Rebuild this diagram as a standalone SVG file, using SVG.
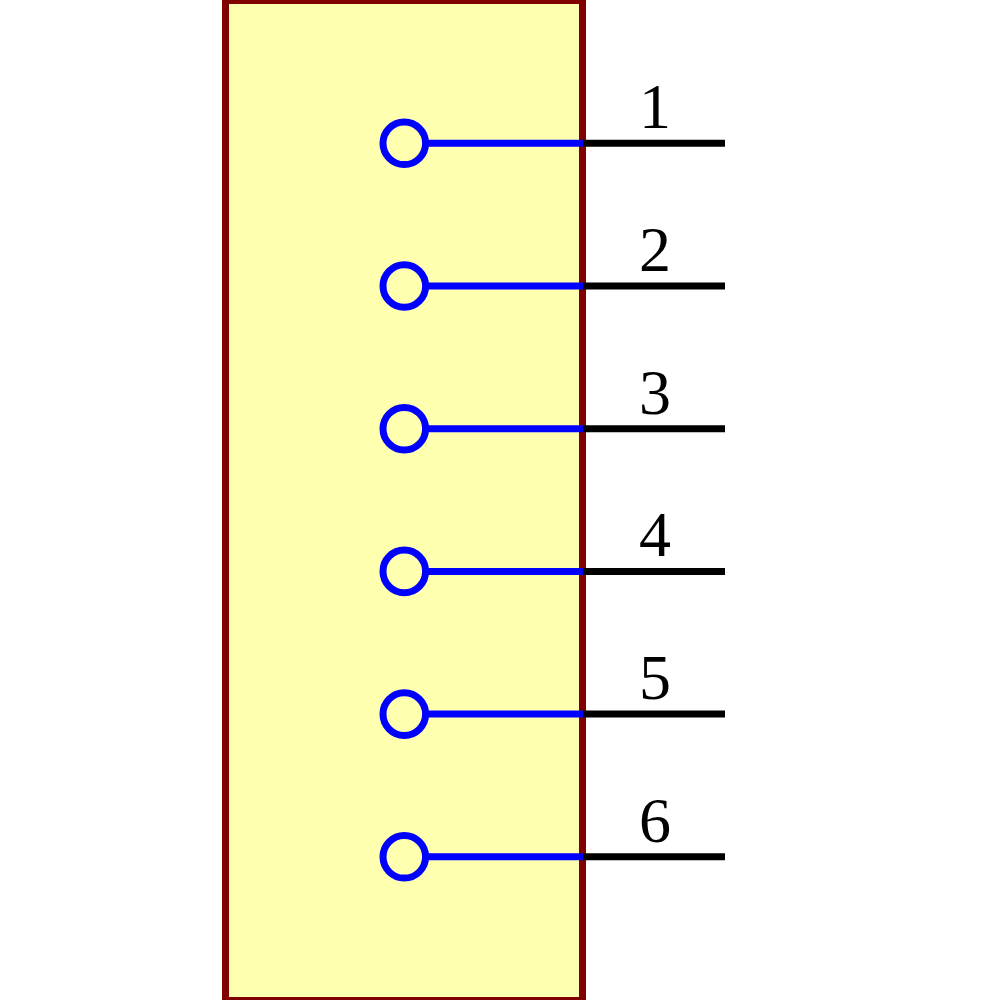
<svg xmlns="http://www.w3.org/2000/svg" width="1000" height="1000" viewBox="0 0 1000 1000">
<style>
.pin{stroke:#0000ff;stroke-width:7;fill:none}
.lead{stroke:#000;stroke-width:7}
.lbl{font-family:"Liberation Serif",serif;font-size:64px;fill:#000;text-anchor:middle}
</style>
<rect width="1000" height="1000" fill="#fff"/>
<g id="body"><rect x="225.5" y="0.5" width="357" height="1000" fill="#ffffb0" stroke="#800000" stroke-width="7"/></g>
<g id="connectors">
<line class="lead" x1="583" y1="143.3" x2="725" y2="143.3"/>
<line class="lead" x1="583" y1="286" x2="725" y2="286"/>
<line class="lead" x1="583" y1="428.7" x2="725" y2="428.7"/>
<line class="lead" x1="583" y1="571.4" x2="725" y2="571.4"/>
<line class="lead" x1="583" y1="714.1" x2="725" y2="714.1"/>
<line class="lead" x1="583" y1="856.8" x2="725" y2="856.8"/>
</g>
<g id="pin1"><circle class="pin" cx="404.3" cy="143.3" r="21.3"/><line class="pin" x1="425.6" y1="143.3" x2="583" y2="143.3"/><text class="lbl" x="655" y="128.3">1</text></g>
<g id="pin2"><circle class="pin" cx="404.3" cy="286" r="21.3"/><line class="pin" x1="425.6" y1="286" x2="583" y2="286"/><text class="lbl" x="655" y="271">2</text></g>
<g id="pin3"><circle class="pin" cx="404.3" cy="428.7" r="21.3"/><line class="pin" x1="425.6" y1="428.7" x2="583" y2="428.7"/><text class="lbl" x="655" y="413.7">3</text></g>
<g id="pin4"><circle class="pin" cx="404.3" cy="571.4" r="21.3"/><line class="pin" x1="425.6" y1="571.4" x2="583" y2="571.4"/><text class="lbl" x="655" y="556.4">4</text></g>
<g id="pin5"><circle class="pin" cx="404.3" cy="714.1" r="21.3"/><line class="pin" x1="425.6" y1="714.1" x2="583" y2="714.1"/><text class="lbl" x="655" y="699.1">5</text></g>
<g id="pin6"><circle class="pin" cx="404.3" cy="856.8" r="21.3"/><line class="pin" x1="425.6" y1="856.8" x2="583" y2="856.8"/><text class="lbl" x="655" y="841.8">6</text></g>
</svg>
